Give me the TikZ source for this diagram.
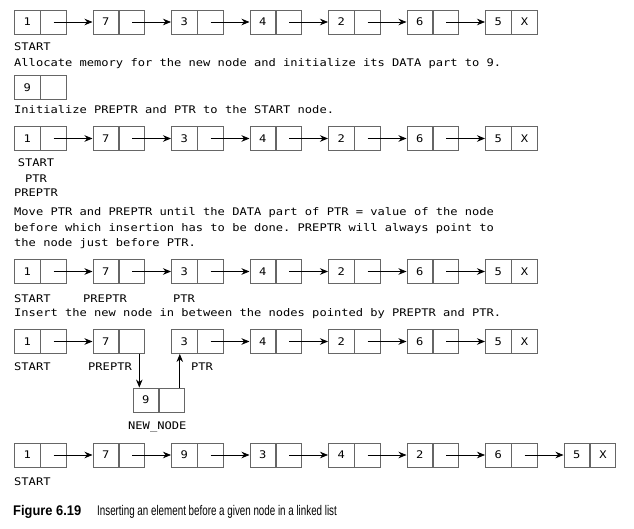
\documentclass[tikz,border=0pt]{standalone}
\usepackage{fontspec}
\setmonofont{DejaVu Sans Mono}[FakeStretch=1.15]
\newfontfamily\capfont{Liberation Sans}[FakeStretch=0.70]
\newfontfamily\capbold{Liberation Sans Bold}[FakeStretch=0.92]
\usetikzlibrary{arrows.meta}

\tikzset{
  txt/.style={font=\ttfamily\fontsize{10.5}{12}\selectfont, inner sep=0, anchor=base west},
  cell/.style={draw=black!60, line width=0.9pt, minimum width=25.5pt, minimum height=24pt,
    inner sep=0, font=\ttfamily\fontsize{10.5}{12}\selectfont, anchor=west},
  link/.style={-{Stealth[length=8pt,width=6.5pt]}, line width=0.8pt},
}

% one row of list nodes: prefix, y centre, values, index of the last node
\newcommand\listrow[4]{%
  \foreach \v [count=\i] in {#3} {
    \node[cell] (#1d\i) at ({14+78.5*(\i-1)},#2) {\v};
    \node[cell] (#1p\i) at (#1d\i.east) {\ifnum\i=#4 X\fi};
  }%
}
% arrows between consecutive nodes of a row, from node #2 up to node #3
\newcommand\listlinks[3]{%
  \foreach \i in {#2,...,#3} {
    \pgfmathtruncatemacro\j{\i+1}
    \draw[link] (#1p\i.center) -- (#1d\j.west);
  }%
}

\begin{document}
\begin{tikzpicture}[x=1pt,y=-1pt]
\useasboundingbox (0,0) rectangle (634,529);

% initial list
\listrow{a}{22}{1,7,3,4,2,6,5}{7}
\listlinks{a}{1}{6}
\node[txt] (alab) at (14,51) {START};
\node[txt] (t1) at (14,67) {Allocate memory for the new node and initialize its DATA part to 9.};

% the new node
\node[cell] (nined) at (14,87.5) {9};
\node[cell] (ninep) at (nined.east) {};
\node[txt] (t2) at (14,114) {Initialize PREPTR and PTR to the START node.};

% PTR and PREPTR at START
\listrow{b}{138.5}{1,7,3,4,2,6,5}{7}
\listlinks{b}{1}{6}
\node[txt, anchor=base] (blab1) at (36,167) {START};
\node[txt, anchor=base] (blab2) at (36,183) {PTR};
\node[txt, anchor=base] (blab3) at (36,197) {PREPTR};
\node[txt] (t3a) at (14,216) {Move PTR and PREPTR until the DATA part of PTR = value of the node};
\node[txt] (t3b) at (14,231.5) {before which insertion has to be done. PREPTR will always point to};
\node[txt] (t3c) at (14,247) {the node just before PTR.};

% PTR and PREPTR moved
\listrow{c}{271.5}{1,7,3,4,2,6,5}{7}
\listlinks{c}{1}{6}
\node[txt] (clab1) at (14,302) {START};
\node[txt] (clab2) at (83,302) {PREPTR};
\node[txt] (clab3) at (173,302) {PTR};
\node[txt] (t4) at (14,316) {Insert the new node in between the nodes pointed by PREPTR and PTR.};

% insertion
\listrow{d}{341.5}{1,7,3,4,2,6,5}{7}
\listlinks{d}{1}{1}
\listlinks{d}{3}{6}
\node[txt] (dlab1) at (14,370) {START};
\node[txt] (dlab2) at (88,370) {PREPTR};
\node[txt] (dlab3) at (191,370) {PTR};
\node[cell] (nd) at (132.5,400) {9};
\node[cell] (np) at (nd.east) {};
\node[txt] (ndlab) at (128,429) {NEW\_NODE};
\draw[link] ([xshift=-6pt]dp2.south east) -- ([xshift=-6pt]dp2.south east |- nd.north);
\draw[link] ([xshift=-5.5pt]np.north east) -- ([xshift=-5.5pt]np.north east |- dd3.south);

% resulting list
\listrow{e}{455}{1,7,9,3,4,2,6,5}{8}
\listlinks{e}{1}{7}
\node[txt] (elab) at (14,485) {START};

% caption
\node[anchor=base west, inner sep=0, font=\capbold\fontsize{14}{16}\selectfont] (fig) at (13,515) {Figure 6.19};
\node[anchor=base west, inner sep=0, font=\capfont\fontsize{14}{16}\selectfont] (cap) at (97,515) {Inserting an element before a given node in a linked list};
\end{tikzpicture}
\end{document}
